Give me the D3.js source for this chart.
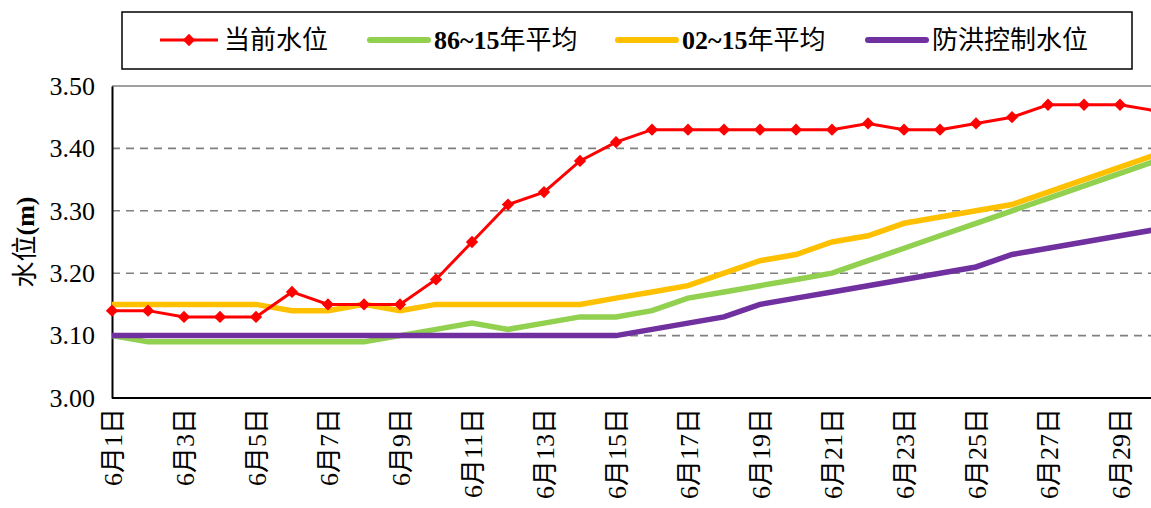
<!DOCTYPE html>
<html>
<head>
<meta charset="utf-8">
<script src="https://cdn.jsdelivr.net/npm/d3@7"></script>
<style>
  body { margin: 0; background: #fff; }
  svg { display: block; font-family: "Liberation Serif", "Noto Sans CJK SC", serif; }
</style>
</head>
<body>
<div id="chart"></div>
<script>
// days of June
var days = d3.range(1, 31);
var current = [3.14, 3.14, 3.13, 3.13, 3.13, 3.17, 3.15, 3.15, 3.15, 3.19,
               3.25, 3.31, 3.33, 3.38, 3.41, 3.43, 3.43, 3.43, 3.43, 3.43,
               3.43, 3.44, 3.43, 3.43, 3.44, 3.45, 3.47, 3.47, 3.47, 3.46];
var avg86 = [3.10, 3.09, 3.09, 3.09, 3.09, 3.09, 3.09, 3.09, 3.10, 3.11,
             3.12, 3.11, 3.12, 3.13, 3.13, 3.14, 3.16, 3.17, 3.18, 3.19,
             3.20, 3.22, 3.24, 3.26, 3.28, 3.30, 3.32, 3.34, 3.36, 3.38];
var avg02 = [3.15, 3.15, 3.15, 3.15, 3.15, 3.14, 3.14, 3.15, 3.14, 3.15,
             3.15, 3.15, 3.15, 3.15, 3.16, 3.17, 3.18, 3.20, 3.22, 3.23,
             3.25, 3.26, 3.28, 3.29, 3.30, 3.31, 3.33, 3.35, 3.37, 3.39];
var control = [3.10, 3.10, 3.10, 3.10, 3.10, 3.10, 3.10, 3.10, 3.10, 3.10,
               3.10, 3.10, 3.10, 3.10, 3.10, 3.11, 3.12, 3.13, 3.15, 3.16,
               3.17, 3.18, 3.19, 3.20, 3.21, 3.23, 3.24, 3.25, 3.26, 3.27];
var yTicks = [3.00, 3.10, 3.20, 3.30, 3.40, 3.50];
var xTickDays = d3.range(1, 30, 2);
var seriesNames = ["当前水位", "86~15年平均", "02~15年平均", "防洪控制水位"];

(function () {
    var W = 1151, H = 508;
    var mLeft = 112, mTop = 86, mBottom = 398;

    var svg = d3.select("#chart").append("svg")
        .attr("width", W)
        .attr("height", H);

    var x = d3.scaleLinear().domain([1, 30]).range([mLeft, 1156]);
    var y = d3.scaleLinear().domain([3.0, 3.5]).range([mBottom, mTop]);

    // dashed grid
    svg.append("g")
        .selectAll("line")
        .data(yTicks.filter(function (d) { return d > 3.0 && d < 3.5; }))
        .enter()
        .append("line")
        .attr("x1", mLeft).attr("x2", W)
        .attr("y1", function (d) { return y(d); })
        .attr("y2", function (d) { return y(d); })
        .style("stroke", "#808080")
        .style("stroke-width", 1.6)
        .style("stroke-dasharray", "8,6");

    // top border
    svg.append("line")
        .attr("x1", mLeft).attr("x2", W)
        .attr("y1", y(3.5)).attr("y2", y(3.5))
        .style("stroke", "#808080")
        .style("stroke-width", 1.6);

    // Y axis
    var yAxis = svg.append("g")
        .attr("transform", "translate(" + mLeft + ",0)")
        .call(d3.axisLeft(y).tickValues(yTicks).tickSize(0).tickPadding(17)
            .tickFormat(d3.format(".2f")));
    yAxis.attr("font-family", null);
    yAxis.select(".domain").style("stroke", "#000").style("stroke-width", 2);
    yAxis.selectAll("text")
        .style("font-family", "'Liberation Serif', serif")
        .style("font-size", "26px")
        .style("fill", "#000");

    // X axis
    var xAxis = svg.append("g")
        .attr("transform", "translate(0," + mBottom + ")")
        .call(d3.axisBottom(x).tickValues(xTickDays).tickSize(0)
            .tickFormat(function (d) { return "6月" + d + "日"; }));
    xAxis.attr("font-family", null);
    xAxis.select(".domain").remove();
    xAxis.append("line")
        .attr("x1", mLeft).attr("x2", W)
        .style("stroke", "#000").style("stroke-width", 2);
    xAxis.selectAll("text")
        .attr("transform", "rotate(-90)")
        .attr("text-anchor", "end")
        .attr("x", -10)
        .attr("y", 0)
        .attr("dy", "0.35em")
        .style("font-family", "'Liberation Serif', 'Noto Sans CJK SC', serif")
        .style("font-size", "26px")
        .style("fill", "#000");

    // Y axis title
    var title = svg.append("text")
        .attr("transform", "translate(34,242) rotate(-90)")
        .attr("text-anchor", "middle")
        .style("font-size", "26px");
    title.append("tspan").text("水位");
    title.append("tspan").style("font-weight", "bold").text("(m)");

    // lines
    var line = d3.line()
        .x(function (d, i) { return x(days[i]); })
        .y(function (d) { return y(d); });

    var plot = svg.append("g");

    plot.append("path").datum(avg86)
        .attr("d", line).style("fill", "none")
        .style("stroke", "#92D050").style("stroke-width", 5.5);
    plot.append("path").datum(avg02)
        .attr("d", line).style("fill", "none")
        .style("stroke", "#FFC000").style("stroke-width", 5.5);
    plot.append("path").datum(control)
        .attr("d", line).style("fill", "none")
        .style("stroke", "#7030A0").style("stroke-width", 5.5);
    plot.append("path").datum(current)
        .attr("d", line).style("fill", "none")
        .style("stroke", "#FF0000").style("stroke-width", 3);

    // square rotated 45deg -> Excel-style diamond
    var diamond = d3.symbol().type(d3.symbolSquare).size(76);
    plot.selectAll(".dot")
        .data(current)
        .enter()
        .append("path")
        .attr("class", "dot")
        .attr("d", diamond)
        .attr("transform", function (d, i) { return "translate(" + x(days[i]) + "," + y(d) + ") rotate(45)"; })
        .style("fill", "#FF0000");

    // legend
    var legend = svg.append("g");
    legend.append("rect")
        .attr("x", 122).attr("y", 12)
        .attr("width", 1010).attr("height", 57)
        .style("fill", "#fff")
        .style("stroke", "#000")
        .style("stroke-width", 1.5);

    var legendColors = ["#FF0000", "#92D050", "#FFC000", "#7030A0"];
    var legendX = [160, 370, 618, 868];

    seriesNames.forEach(function (name, i) {
        var g = legend.append("g").attr("transform", "translate(" + legendX[i] + ",40)");
        g.append("line")
            .attr("x1", 0).attr("x2", 58)
            .style("stroke", legendColors[i])
            .style("stroke-width", i === 0 ? 3 : 6)
            .style("stroke-linecap", i === 0 ? "butt" : "round");
        if (i === 0) {
            g.append("path").attr("d", diamond).attr("transform", "translate(29,0) rotate(45)")
                .style("fill", "#FF0000");
        }
        var t = g.append("text")
            .attr("x", 64).attr("y", 0).attr("dy", "0.35em")
            .style("font-size", "26px");
        var m = name.match(/^([0-9~]+)(.*)$/);
        if (m) {
            t.append("tspan").style("font-weight", "bold").text(m[1]);
            t.append("tspan").text(m[2]);
        } else {
            t.text(name);
        }
    });
})();
</script>
</body>
</html>
